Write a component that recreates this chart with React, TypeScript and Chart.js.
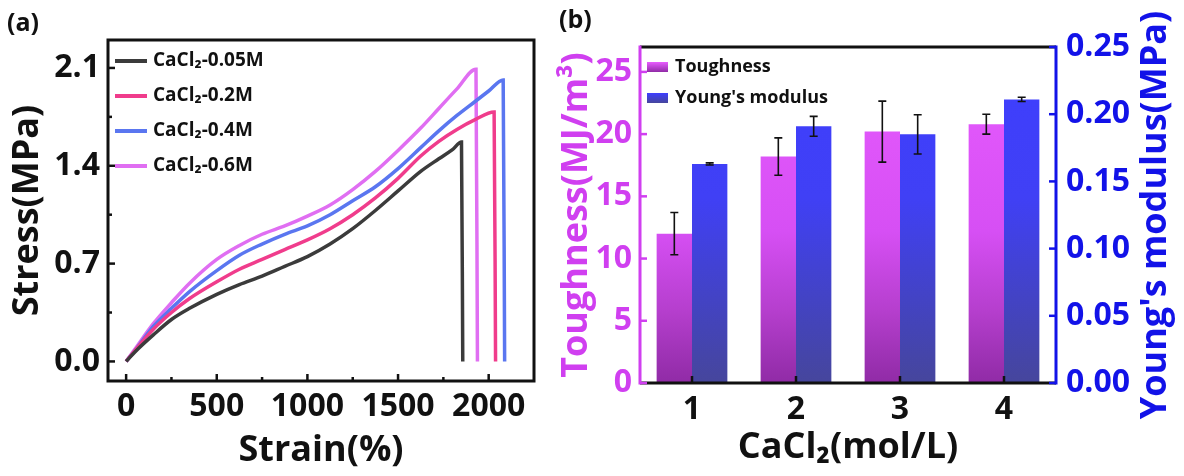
import { useEffect, useRef } from 'react';
import { Chart, registerables } from 'chart.js';

Chart.register(...registerables);

// ---------- Panel (a): stress-strain curves ----------
const seriesLabels = ['CaCl₂-0.05M', 'CaCl₂-0.2M', 'CaCl₂-0.4M', 'CaCl₂-0.6M'];

const strain005 = [0, 50, 150, 250, 350, 500, 625, 750, 875, 1000, 1125, 1250, 1375, 1500, 1625, 1725, 1800, 1850, 1857];
const stress005 = [0, 0.07, 0.19, 0.3, 0.38, 0.48, 0.55, 0.61, 0.68, 0.75, 0.84, 0.95, 1.08, 1.22, 1.36, 1.45, 1.515, 1.57, 0];

const strain02 = [0, 50, 150, 250, 350, 500, 625, 750, 875, 1000, 1125, 1250, 1375, 1500, 1625, 1725, 1825, 1925, 2030, 2038];
const stress02 = [0, 0.08, 0.23, 0.35, 0.45, 0.57, 0.66, 0.73, 0.8, 0.87, 0.95, 1.05, 1.17, 1.31, 1.47, 1.575, 1.66, 1.73, 1.785, 0];

const strain04 = [0, 50, 150, 250, 350, 500, 625, 750, 875, 1000, 1125, 1250, 1375, 1500, 1625, 1725, 1825, 1925, 2000, 2080, 2088];
const stress04 = [0, 0.08, 0.25, 0.38, 0.5, 0.65, 0.76, 0.84, 0.91, 0.97, 1.05, 1.15, 1.25, 1.38, 1.53, 1.65, 1.76, 1.86, 1.935, 2.014, 0];

const strain06 = [0, 50, 150, 250, 350, 500, 625, 750, 875, 1000, 1125, 1250, 1375, 1500, 1625, 1725, 1825, 1930, 1938];
const stress06 = [0, 0.09, 0.27, 0.42, 0.56, 0.73, 0.83, 0.91, 0.97, 1.04, 1.12, 1.23, 1.36, 1.51, 1.67, 1.81, 1.95, 2.09, 0];

const strainSeries = [strain005, strain02, strain04, strain06];
const stressSeries = [stress005, stress02, stress04, stress06];
const lineColors = ['#3b3b3b', '#f03c8c', '#5a76f0', '#e06ef2'];

const strainTicks = [0, 500, 1000, 1500, 2000];
const strainMinorTicks = [250, 750, 1250, 1750];
const stressTicks = [0, 0.7, 1.4, 2.1];
const stressTickLabels = ['0.0', '0.7', '1.4', '2.1'];
const stressMinorTicks = [0.35, 1.05, 1.75];

// ---------- Panel (b): bars ----------
const categories = ['1', '2', '3', '4'];
const toughness = [12.0, 18.2, 20.2, 20.8];
const toughnessErr = [1.7, 1.5, 2.45, 0.8];
const modulus = [0.163, 0.191, 0.185, 0.211];
const modulusErr = [0.0008, 0.0074, 0.0146, 0.0016];
const toughTicks = [0, 5, 10, 15, 20, 25];
const modTicks = [0, 0.05, 0.1, 0.15, 0.2, 0.25];
const modTickLabels = ['0.00', '0.05', '0.10', '0.15', '0.20', '0.25'];

const FONT = "'Open Sans', 'Noto Sans', 'DejaVu Sans', sans-serif";
const BLACK = '#111111';
const VIOLET = '#d03ff0';
const BLUE = '#1212e8';

const toughStops: [number, string][] = [[0, '#e85cff'], [0.55, '#d64ff4'], [0.78, '#b63fce'], [1, '#902ba6']];
const modStops: [number, string][] = [[0, '#3e3eff'], [0.45, '#4040f5'], [0.75, '#4343c4'], [1, '#46469c']];

function vGrad(ctx: CanvasRenderingContext2D, y0: number, y1: number, stops: [number, string][]) {
  const g = ctx.createLinearGradient(0, y0, 0, y1);
  stops.forEach(([o, c]) => g.addColorStop(o, c));
  return g;
}

const panelAPlugin = {
  id: 'panelA',
  afterDraw(chart: any) {
    const ctx: CanvasRenderingContext2D = chart.ctx;
    const { left, right, top, bottom } = chart.chartArea;
    const xs = chart.scales.x;
    const ys = chart.scales.y;
    ctx.save();
    ctx.strokeStyle = BLACK;
    ctx.lineWidth = 3;
    ctx.strokeRect(left, top, right - left, bottom - top);
    ctx.lineWidth = 2.5;
    const tick = (x1: number, y1: number, x2: number, y2: number) => {
      ctx.beginPath();
      ctx.moveTo(x1, y1);
      ctx.lineTo(x2, y2);
      ctx.stroke();
    };
    strainTicks.forEach((v) => { const p = xs.getPixelForValue(v); tick(p, bottom, p, bottom - 7); });
    strainMinorTicks.forEach((v) => { const p = xs.getPixelForValue(v); tick(p, bottom, p, bottom - 4); });
    stressTicks.forEach((v) => { const p = ys.getPixelForValue(v); tick(left, p, left + 7, p); });
    stressMinorTicks.forEach((v) => { const p = ys.getPixelForValue(v); tick(left, p, left + 4, p); });

    // legend
    chart.data.datasets.forEach((ds: any, i: number) => {
      const y = 61 + i * 35;
      ctx.strokeStyle = ds.borderColor;
      ctx.lineWidth = 4;
      ctx.beginPath();
      ctx.moveTo(115, y);
      ctx.lineTo(147, y);
      ctx.stroke();
      ctx.fillStyle = BLACK;
      ctx.font = `bold 19px ${FONT}`;
      ctx.textAlign = 'left';
      ctx.textBaseline = 'middle';
      ctx.fillText(ds.label, 153, y);
    });

    ctx.fillStyle = BLACK;
    ctx.font = `bold 25px ${FONT}`;
    ctx.textAlign = 'left';
    ctx.textBaseline = 'middle';
    ctx.fillText('(a)', 7, 24);
    ctx.restore();
  },
};

const panelBPlugin = {
  id: 'panelB',
  afterDatasetsDraw(chart: any) {
    const ctx: CanvasRenderingContext2D = chart.ctx;
    const errs = [toughnessErr, modulusErr];
    ctx.save();
    ctx.strokeStyle = BLACK;
    ctx.lineWidth = 1.6;
    chart.data.datasets.forEach((ds: any, d: number) => {
      const meta = chart.getDatasetMeta(d);
      const sc = chart.scales[meta.yAxisID];
      meta.data.forEach((el: any, j: number) => {
        const v = ds.data[j];
        const e = errs[d][j];
        const yt = sc.getPixelForValue(v + e);
        const yb = sc.getPixelForValue(v - e);
        const x = el.x;
        ctx.beginPath();
        ctx.moveTo(x, yt); ctx.lineTo(x, yb);
        ctx.moveTo(x - 4, yt); ctx.lineTo(x + 4, yt);
        ctx.moveTo(x - 4, yb); ctx.lineTo(x + 4, yb);
        ctx.stroke();
      });
    });
    ctx.restore();
  },
  afterDraw(chart: any) {
    const ctx: CanvasRenderingContext2D = chart.ctx;
    const { left, right, top, bottom } = chart.chartArea;
    const xs = chart.scales.x;
    const yl = chart.scales.yL;
    const yr = chart.scales.yR;
    ctx.save();
    ctx.lineWidth = 3;
    const line = (c: string, x1: number, y1: number, x2: number, y2: number) => {
      ctx.strokeStyle = c;
      ctx.beginPath();
      ctx.moveTo(x1, y1);
      ctx.lineTo(x2, y2);
      ctx.stroke();
    };
    line(BLACK, left, top, right, top);
    line(BLACK, left, bottom, right, bottom);
    line(VIOLET, left, top - 1.5, left, bottom + 1.5);
    line(BLUE, right, top - 1.5, right, bottom + 1.5);
    ctx.lineWidth = 2.5;
    categories.forEach((_, i) => { const p = xs.getPixelForValue(i); line(BLACK, p, bottom, p, bottom - 7); });
    toughTicks.forEach((v) => { const p = yl.getPixelForValue(v); line(VIOLET, left, p, left + 7, p); });
    modTicks.forEach((v) => { const p = yr.getPixelForValue(v); line(BLUE, right, p, right - 7, p); });

    // legend
    const sw = [toughStops, modStops];
    chart.data.datasets.forEach((ds: any, i: number) => {
      const y = 67 + i * 31;
      ctx.fillStyle = vGrad(ctx, y - 5, y + 5, [[0, sw[i][0][1]], [1, sw[i][3][1]]]);
      ctx.fillRect(92, y - 5, 21, 10);
      ctx.fillStyle = BLACK;
      ctx.font = `bold 18px ${FONT}`;
      ctx.textAlign = 'left';
      ctx.textBaseline = 'middle';
      ctx.fillText(ds.label, 120, y);
    });

    // right axis title (reads bottom to top)
    ctx.save();
    ctx.translate(601, (top + bottom) / 2);
    ctx.rotate(-Math.PI / 2);
    ctx.fillStyle = BLUE;
    ctx.font = `bold 36px ${FONT}`;
    ctx.textAlign = 'center';
    ctx.textBaseline = 'middle';
    ctx.fillText("Young's modulus(MPa)", 0, 0);
    ctx.restore();

    ctx.fillStyle = BLACK;
    ctx.font = `bold 25px ${FONT}`;
    ctx.textAlign = 'left';
    ctx.textBaseline = 'middle';
    ctx.fillText('(b)', 4, 21);
    ctx.restore();
  },
};

const tickFont = { family: FONT, size: 32, weight: 'bold' as const };
const titleFont = { family: FONT, size: 36, weight: 'bold' as const };

export default function App() {
  const refA = useRef<HTMLCanvasElement>(null);
  const refB = useRef<HTMLCanvasElement>(null);

  useEffect(() => {
    const chartA = new Chart(refA.current!, {
      type: 'line',
      data: {
        datasets: seriesLabels.map((label, i) => ({
          label,
          data: strainSeries[i].map((x, j) => ({ x, y: stressSeries[i][j] })),
          borderColor: lineColors[i],
          backgroundColor: lineColors[i],
          borderWidth: 3.5,
          pointRadius: 0,
          cubicInterpolationMode: 'monotone' as const,
          fill: false,
        })),
      },
      options: {
        animation: false,
        responsive: false,
        maintainAspectRatio: false,
        devicePixelRatio: 1,
        events: [],
        layout: { padding: { top: 40, right: 21, left: 0, bottom: 0 } },
        plugins: { legend: { display: false }, tooltip: { enabled: false } },
        scales: {
          x: {
            type: 'linear',
            min: -100,
            max: 2250,
            afterBuildTicks: (s: any) => { s.ticks = strainTicks.map((v) => ({ value: v })); },
            afterFit: (s: any) => { s.height = 95; },
            ticks: { font: tickFont, color: BLACK, padding: 7, maxRotation: 0, autoSkip: false, callback: (v: any) => String(v) },
            grid: { display: false, drawTicks: false },
            border: { display: false },
            title: { display: true, text: 'Strain(%)', font: titleFont, color: BLACK, padding: { top: 0, bottom: 4 } },
          },
          y: {
            type: 'linear',
            min: -0.14,
            max: 2.3,
            afterBuildTicks: (s: any) => { s.ticks = stressTicks.map((v) => ({ value: v })); },
            afterFit: (s: any) => { s.width = 108; },
            ticks: { font: tickFont, color: BLACK, padding: 8, autoSkip: false, callback: (_v: any, i: number) => stressTickLabels[i] },
            grid: { display: false, drawTicks: false },
            border: { display: false },
            title: { display: true, text: 'Stress(MPa)', font: titleFont, color: BLACK, padding: { top: 6, bottom: 0 } },
          },
        },
      },
      plugins: [panelAPlugin],
    } as any);

    const chartB = new Chart(refB.current!, {
      type: 'bar',
      data: {
        labels: categories,
        datasets: [
          {
            label: 'Toughness',
            data: toughness,
            yAxisID: 'yL',
            backgroundColor: (c: any) => {
              const ca = c.chart.chartArea;
              return ca ? vGrad(c.chart.ctx, ca.top, ca.bottom, toughStops) : toughStops[1][1];
            },
            borderWidth: 0,
            categoryPercentage: 0.68,
            barPercentage: 1,
          },
          {
            label: "Young's modulus",
            data: modulus,
            yAxisID: 'yR',
            backgroundColor: (c: any) => {
              const ca = c.chart.chartArea;
              return ca ? vGrad(c.chart.ctx, ca.top, ca.bottom, modStops) : modStops[1][1];
            },
            borderWidth: 0,
            categoryPercentage: 0.68,
            barPercentage: 1,
          },
        ],
      },
      options: {
        animation: false,
        responsive: false,
        maintainAspectRatio: false,
        devicePixelRatio: 1,
        events: [],
        layout: { padding: { top: 47, right: 0, left: 0, bottom: 0 } },
        plugins: { legend: { display: false }, tooltip: { enabled: false } },
        scales: {
          x: {
            type: 'category',
            offset: true,
            afterFit: (s: any) => { s.height = 93; },
            ticks: { font: tickFont, color: BLACK, padding: 8, maxRotation: 0 },
            grid: { display: false, drawTicks: false },
            border: { display: false },
            title: { display: true, text: 'CaCl₂(mol/L)', font: titleFont, color: BLACK, padding: { top: 0, bottom: 7 } },
          },
          yL: {
            type: 'linear',
            position: 'left',
            min: 0,
            max: 27,
            afterBuildTicks: (s: any) => { s.ticks = toughTicks.map((v) => ({ value: v })); },
            afterFit: (s: any) => { s.width = 85; },
            ticks: { font: tickFont, color: VIOLET, padding: 8, autoSkip: false, callback: (v: any) => String(v) },
            grid: { display: false, drawTicks: false },
            border: { display: false },
            title: { display: true, text: 'Toughness(MJ/m³)', font: titleFont, color: VIOLET, padding: { top: 0, bottom: 0 } },
          },
          yR: {
            type: 'linear',
            position: 'right',
            min: 0,
            max: 0.25,
            afterBuildTicks: (s: any) => { s.ticks = modTicks.map((v) => ({ value: v })); },
            afterFit: (s: any) => { s.width = 128; },
            ticks: { font: tickFont, color: BLUE, padding: 10, autoSkip: false, callback: (_v: any, i: number) => modTickLabels[i] },
            grid: { display: false, drawTicks: false },
            border: { display: false },
          },
        },
      },
      plugins: [panelBPlugin],
    } as any);

    return () => {
      chartA.destroy();
      chartB.destroy();
    };
  }, []);

  return (
    <div style={{ position: 'fixed', left: 0, top: 0, width: 1184, height: 476, background: '#ffffff' }}>
      <canvas ref={refA} width={555} height={476} style={{ position: 'absolute', left: 0, top: 0, width: 555, height: 476 }} />
      <canvas ref={refB} width={629} height={476} style={{ position: 'absolute', left: 555, top: 0, width: 629, height: 476 }} />
    </div>
  );
}
